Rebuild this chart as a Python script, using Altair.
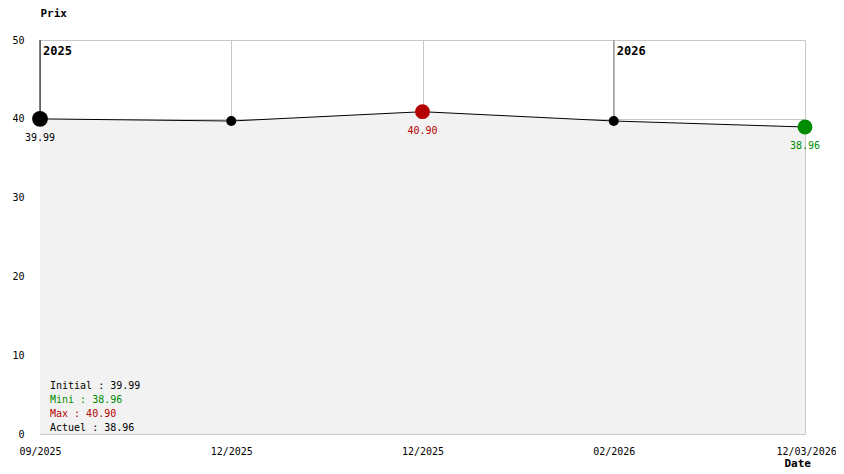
import altair as alt
import pandas as pd

# ---- data ----
dates = ["09/2025", "12/2025", "12/2025", "02/2026", "12/03/2026"]
prices = [39.99, 39.72, 40.90, 39.72, 38.96]
years = ["2025", "2026"]
year_idx = [0, 3]
year_colors = ["#000000", "#888888"]

RED = "#b40000"
GREEN = "#008c00"
FONT = "DejaVu Sans Mono"

n = len(prices)
imax = prices.index(max(prices))
imin = len(prices) - 1 - prices[::-1].index(min(prices))

rows = []
for i, (d, p) in enumerate(zip(dates, prices)):
    if i == imax:
        col, sz, lab = RED, 220, f"{p:.2f}"
    elif i == imin:
        col, sz, lab = GREEN, 220, f"{p:.2f}"
    elif i == 0:
        col, sz, lab = "#000000", 250, f"{p:.2f}"
    else:
        col, sz, lab = "#000000", 100, ""
    rows.append(dict(idx=i, date=d, price=p, color=col, size=sz, label=lab))
df = pd.DataFrame(rows)

ydf = pd.DataFrame(dict(
    idx=year_idx, year=years, price=[50] * len(years),
    low=[prices[i] for i in year_idx], color=year_colors,
))

label_arr = "[" + ",".join(f"'{d}'" for d in dates) + "]"

xenc = alt.X(
    "idx:Q",
    scale=alt.Scale(domain=[0, n - 1], nice=False, zero=False),
    axis=alt.Axis(
        values=list(range(n)),
        labelExpr=f"{label_arr}[datum.value]",
        title="Date",
        titleFont=FONT, titleFontSize=11, titleFontWeight="bold",
        titleAlign="left", titleBaseline="middle", titleX=744, titleY=29,
        titleAngle=0,
        labelFont=FONT, labelFontSize=10, labelColor="#000000",
        labelFontWeight="normal",
        labelBaseline="middle", labelPadding=17,
        labelAlign=alt.ExprRef(expr=f"datum.value == {n-1} ? 'left' : 'center'"),
        labelOffset=alt.ExprRef(expr=f"datum.value == {n-1} ? -29 : 0"),
        labelOverlap=False, labelFlush=False, labelBound=False,
        ticks=False, domain=False,
        grid=True, gridColor="#c8c8c8", gridWidth=1,
        zindex=0,
    ),
)
yenc = alt.Y(
    "price:Q",
    scale=alt.Scale(domain=[0, 50], nice=False),
    axis=alt.Axis(
        values=[0, 10, 20, 30, 40, 50],
        title="Prix",
        titleFont=FONT, titleFontSize=11, titleFontWeight="bold",
        titleAngle=0, titleAlign="left", titleBaseline="middle",
        titleX=0, titleY=-27,
        labelFont=FONT, labelFontSize=10, labelColor="#000000",
        labelPadding=16, ticks=False,
        domain=False,
        grid=True, gridColor="#c8c8c8", gridWidth=1,
        zindex=0,
    ),
)

area = alt.Chart(df).mark_area(color="#f2f2f2", opacity=1).encode(x=xenc, y=yenc)

year_rule = alt.Chart(ydf).mark_rule(strokeWidth=1).encode(
    x=xenc, y=yenc, y2="low:Q",
    color=alt.Color("color:N", scale=None),
)

line = alt.Chart(df).mark_line(color="#000000", strokeWidth=1).encode(x=xenc, y=yenc)
points = alt.Chart(df).mark_circle(opacity=1).encode(
    x=xenc, y=yenc,
    color=alt.Color("color:N", scale=None),
    size=alt.Size("size:Q", scale=None),
)
plabels = alt.Chart(df[df.label != ""]).mark_text(
    font=FONT, fontSize=10, dy=19, baseline="middle", align="center"
).encode(x=xenc, y=yenc, text="label:N", color=alt.Color("color:N", scale=None))

year_text = alt.Chart(ydf).mark_text(
    font=FONT, fontSize=12, fontWeight="bold", align="left", baseline="middle",
    dx=3, dy=11, color="#000000",
).encode(x=xenc, y=yenc, text="year:N")

summary = [
    (f"Initial : {prices[0]:.2f}", "#000000"),
    (f"Mini : {min(prices):.2f}", GREEN),
    (f"Max : {max(prices):.2f}", RED),
    (f"Actuel : {prices[-1]:.2f}", "#000000"),
]
sum_layers = []
for k, (txt, col) in enumerate(summary):
    sum_layers.append(
        alt.Chart(pd.DataFrame({"t": [txt]})).mark_text(
            font=FONT, fontSize=10, align="left", baseline="middle", color=col
        ).encode(x=alt.value(10), y=alt.value(346 + 14 * k), text="t:N")
    )

chart = alt.layer(
    area, year_rule, line, points, plabels, year_text, *sum_layers
).properties(
    width=765, height=394,
    autosize=alt.AutoSizeParams(type="none"),
    padding={"left": 32, "top": 32, "right": 31, "bottom": 38},
).configure_view(stroke=None)

chart.save("out.html", embed_options={"renderer": "svg", "actions": False})
